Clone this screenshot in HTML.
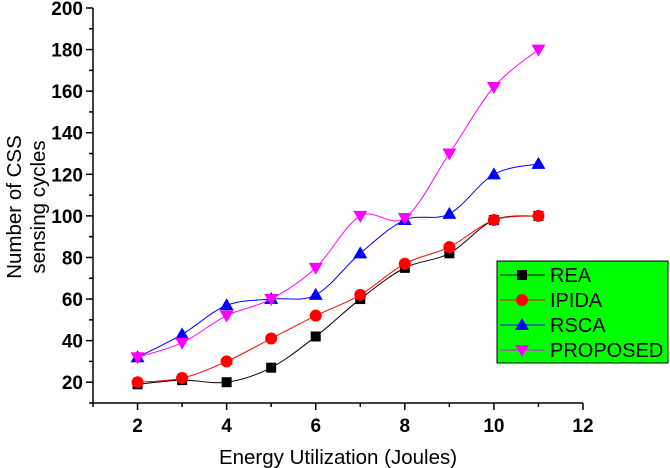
<!DOCTYPE html>
<html><head><meta charset="utf-8"><style>
body{margin:0;background:#fff;}
svg{display:block;font-family:"Liberation Sans",Arial,sans-serif;}
</style></head><body>
<svg id="chart" width="670" height="468" viewBox="0 0 670 468">
<g id="axes"></g><g id="series"></g><g id="legend"></g>
<text x="338" y="464" text-anchor="middle" font-size="20.5">Energy Utilization (Joules)</text>
<text transform="translate(21,207) rotate(-90)" text-anchor="middle" font-size="20.5">Number of CSS</text>
<text transform="translate(45,207) rotate(-90)" text-anchor="middle" font-size="20.5">sensing cycles</text>
</svg>
<script>
const xValues=[2,3,4,5,6,7,8,9,10,11];
const reaValues=[19,21,20,27,42,60,75,82,98,100];
const ipidaValues=[20,22,30,41,52,62,77,85,98,100];
const rscaValues=[32,43,57,60,62,82,98,101,120,125];
const proposedValues=[32,39,52,60,75,100,99,130,162,180];
const xTicks=[2,4,6,8,10,12];
const yTicks=[20,40,60,80,100,120,140,160,180,200];
const seriesNames=["REA","IPIDA","RSCA","PROPOSED"];
const NS="http://www.w3.org/2000/svg";
const X0=93,X1=583,Y0=403,Y1=8;
const xs=v=>X0+(v-1)/(12-1)*(X1-X0);
const ys=v=>Y0-(v-10)/(200-10)*(Y0-Y1);
function mk(tag,attrs,parent){const e=document.createElementNS(NS,tag);for(const k in attrs)e.setAttribute(k,attrs[k]);parent.appendChild(e);return e;}
const ax=document.getElementById('axes');
let a=mk('path',{d:`M${X0},${Y1} V${Y0} H${X1}`,stroke:'#000',fill:'none','stroke-width':1.5},ax);


for(let v=1;v<=12;v++){const big=v%2===0;mk('line',{x1:xs(v),x2:xs(v),y1:Y0,y2:Y0+(big?7:4),stroke:'#000','stroke-width':1.5},ax);}
xTicks.forEach(v=>{const t=mk('text',{x:xs(v),y:432,'text-anchor':'middle','font-size':19,'font-weight':'bold'},ax);t.textContent=v;

});
for(let v=10;v<=200;v+=10){const big=v%20===0;mk('line',{x1:X0,x2:X0-(big?7:4),y1:ys(v),y2:ys(v),stroke:'#000','stroke-width':1.5},ax);}
yTicks.forEach(v=>{const t=mk('text',{x:X0-10,y:ys(v)+7,'text-anchor':'end','font-size':19,'font-weight':'bold'},ax);t.textContent=v;

});
function spline(pts){let d=`M${pts[0][0]},${pts[0][1]}`;for(let i=0;i<pts.length-1;i++){const p0=pts[i-1]||pts[i],p1=pts[i],p2=pts[i+1],p3=pts[i+2]||p2;
const c1=[p1[0]+(p2[0]-p0[0])/6,p1[1]+(p2[1]-p0[1])/6],c2=[p2[0]-(p3[0]-p1[0])/6,p2[1]-(p3[1]-p1[1])/6];d+=` C${c1[0]},${c1[1]} ${c2[0]},${c2[1]} ${p2[0]},${p2[1]}`;}return d;}
function marker(type,x,y,c,g){
if(type==='sq')return mk('rect',{x:x-5,y:y-5,width:10,height:10,fill:c},g);
if(type==='ci')return mk('circle',{cx:x,cy:y,r:6,fill:c},g);
if(type==='up')return mk('path',{d:`M${x},${y-7} L${x+7},${y+5} L${x-7},${y+5}Z`,fill:c},g);
return mk('path',{d:`M${x},${y+7} L${x+7},${y-5} L${x-7},${y-5}Z`,fill:c},g);}
const all=[[reaValues,'#000','sq'],[ipidaValues,'#ff0000','ci'],[rscaValues,'#0000ff','up'],[proposedValues,'#ff00ff','dn']];
const sg=document.getElementById('series');
all.forEach(([vals,c,m],si)=>{const g=mk('g',{},sg);


const pts=xValues.map((x,i)=>[xs(x),ys(vals[i])]);
const p=mk('path',{d:spline(pts),stroke:c,fill:'none','stroke-width':1},g);


pts.forEach(pt=>{const e=marker(m,pt[0],pt[1],c,g);

});});
const lg=document.getElementById('legend');


mk('rect',{x:497,y:261,width:171,height:102,fill:'#00ff00',stroke:'#000','stroke-width':1},lg);
all.forEach(([vals,c,m],i)=>{const y=275+i*25;const g=mk('g',{},lg);


mk('line',{x1:500,x2:545,y1:y,y2:y,stroke:c,'stroke-width':1},g);marker(m,522,y,c,g);
const t=mk('text',{x:550,y:y+7,'font-size':20},g);t.textContent=seriesNames[i];});
</script>
</body></html>
